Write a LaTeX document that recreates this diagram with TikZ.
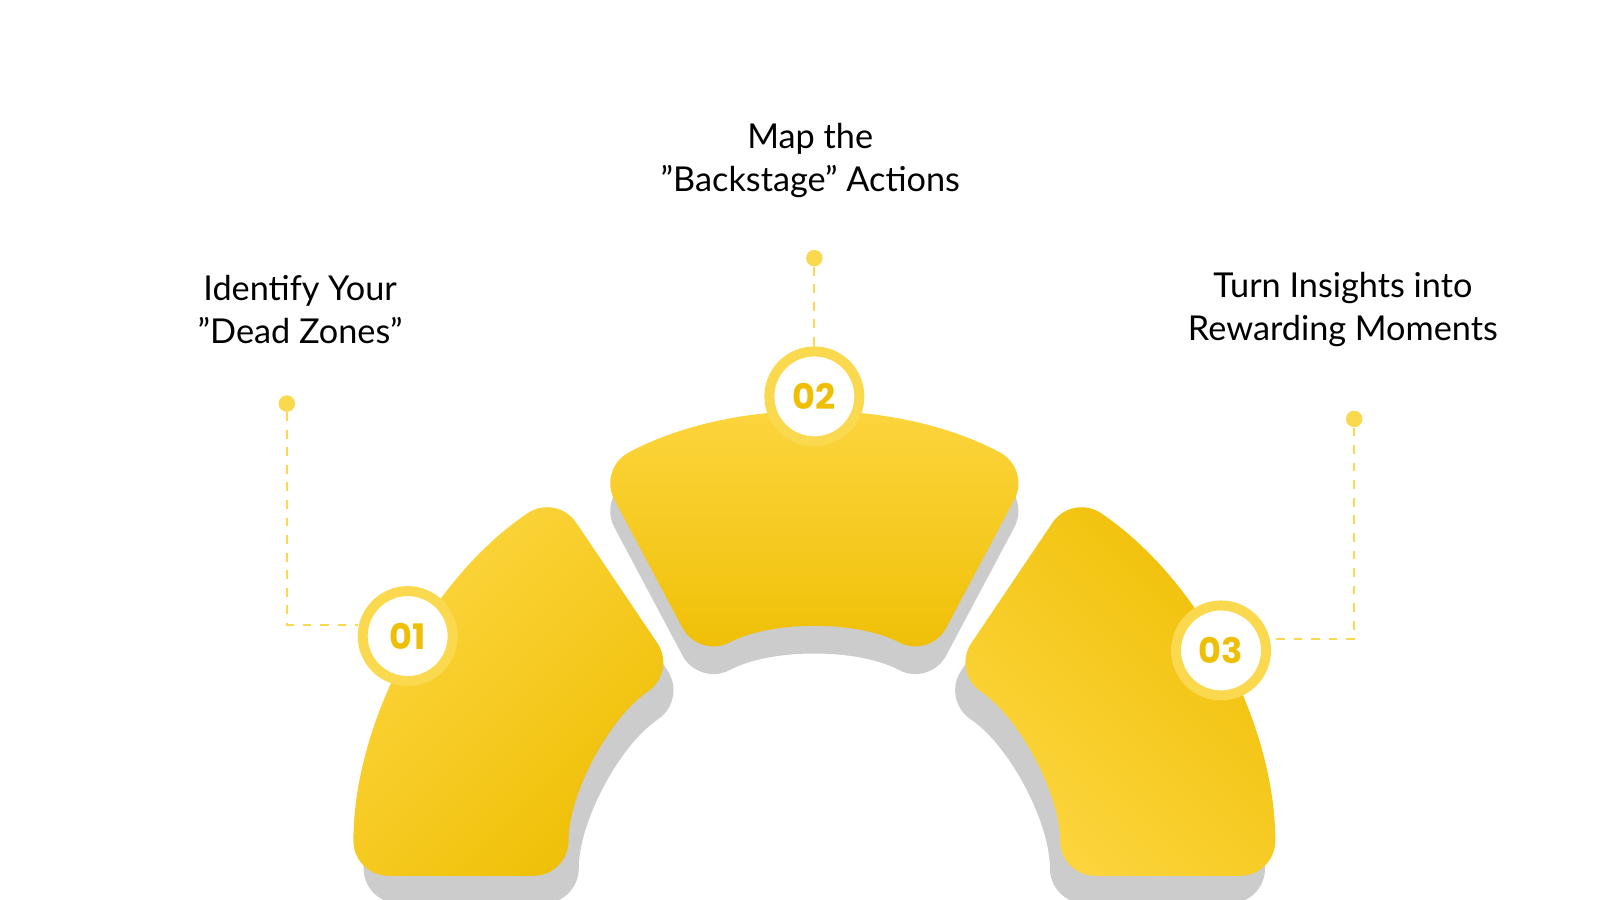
\documentclass[tikz,border=0pt]{standalone}
\usepackage{fontspec}
\setmainfont{Lato}
\newfontfamily\numfont{Poppins}
\usetikzlibrary{calc}
\definecolor{ylight}{HTML}{FDD640}
\definecolor{ydark}{HTML}{EFBF05}
\definecolor{shad}{HTML}{CCCCCC}
\definecolor{dotc}{HTML}{FAD94E}
\begin{document}
\begin{tikzpicture}[x=0.0205cm,y=0.0205cm,
  lbl/.style={font=\fontsize{19.5}{24.5}\selectfont, align=center, text=black},
  numc/.style={circle, draw=dotc, line width=0.2cm, fill=white, minimum size=1.8cm, inner sep=0pt, text=ydark, font=\numfont\bfseries\fontsize{20}{20}\selectfont},
  dotn/.style={circle, fill=dotc, minimum size=0.33cm, inner sep=0pt},
  conn/.style={dotc, line width=1.2pt, dash pattern=on 5pt off 5pt}]
\useasboundingbox (0,22) rectangle (1562,900);
\coordinate (C) at (795,45);
\newcommand{\sector}[5]{% offx offy a1 a2 style
  \path[#5, rounded corners=0.7cm] ($(C)+(#1,#2)+(#3:450)$) arc[start angle=#3, end angle=#4, radius=450]
    -- ($(C)+(#1,#2)+(#4:240)$) arc[start angle=#4, end angle=#3, radius=240] -- cycle;}
% shadows
\sector{10}{-27}{180}{124}{fill=shad}
\sector{0}{-27}{118}{62}{fill=shad}
\sector{-10}{-27}{56}{0}{fill=shad}
% segments
\sector{0}{0}{180}{124}{left color=ylight,right color=ydark,shading angle=45}
\sector{0}{0}{118}{62}{top color=ylight,bottom color=ydark}
\sector{0}{0}{56}{0}{left color=ydark,right color=ylight,shading angle=-45}
% circles
\node[numc] (n1) at (398,279) {01};
\node[numc] (n2) at (795,513) {02};
\node[numc] (n3) at (1192,265) {03};
% dots
\node[dotn] (d1) at (280,506) {};
\node[dotn] (d2) at (795,648) {};
\node[dotn] (d3) at (1322,491) {};
\coordinate (k1) at (280,290);
\coordinate (k3) at (1322,276);
\draw[conn] (d1) -- (k1) -- (n1.west |- k1);
\draw[conn] (d2) -- (n2.north);
\draw[conn] (d3) -- (k3) -- (n3.east |- k3);
% labels
\node[lbl] (t1) at (293,598) {Identify Your\\\symbol{34}Dead Zones\symbol{34}};
\node[lbl] (t2) at (791,743) {Map the\\\symbol{34}Backstage\symbol{34} Actions};
\node[lbl] (t3) at (1311,598) {Turn Insights into\\Rewarding Moments};
\end{tikzpicture}
\end{document}
